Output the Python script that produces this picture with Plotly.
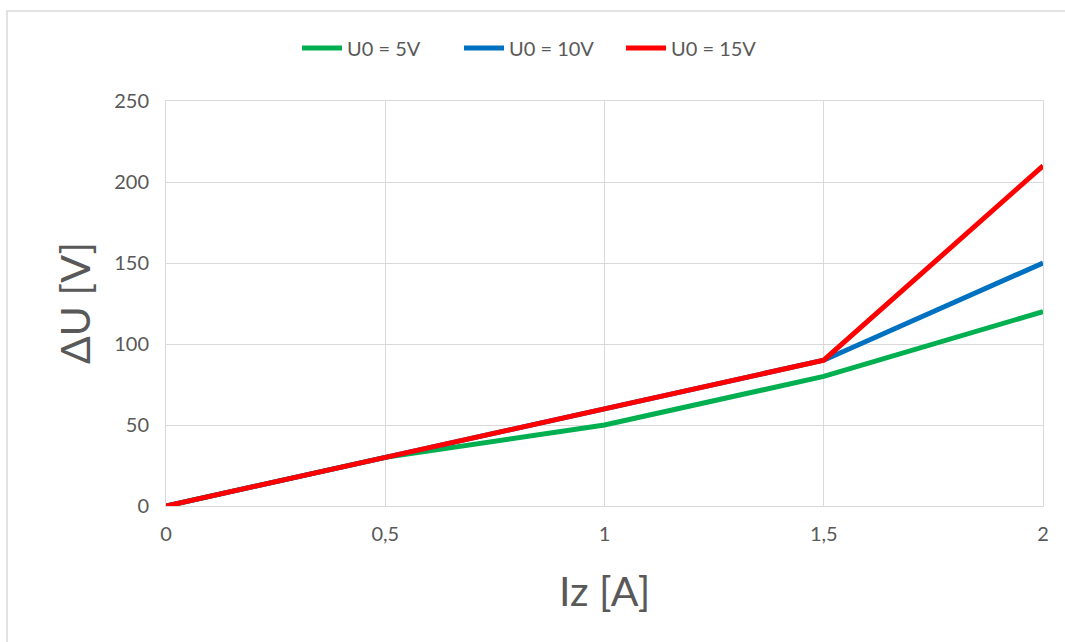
import plotly.graph_objects as go

x_vals = [0, 0.5, 1, 1.5, 2]
u5 = [0, 30, 50, 80, 120]
u10 = [0, 30, 60, 90, 150]
u15 = [0, 30, 60, 90, 210]
names = ["U0 = 5V", "U0 = 10V", "U0 = 15V"]
colors = ["#00B050", "#0070C0", "#FF0000"]
x_ticks = [0, 0.5, 1, 1.5, 2]
x_labels = ["0", "0,5", "1", "1,5", "2"]
y_ticks = [0, 50, 100, 150, 200, 250]

FONT = "Lato, 'Open Sans', sans-serif"
GRID = "#D9D9D9"
TXT = "#595959"

fig = go.Figure()
for name, ys, c in zip(names, [u5, u10, u15], colors):
    fig.add_trace(go.Scatter(x=x_vals, y=ys, mode="lines", name=name,
                             line=dict(color=c, width=5)))

L, R, T, B = 166, 22, 101, 136
W, H = 1065, 642
pw, ph = W - L - R, H - T - B

def px(x):
    return (x - L) / pw

def py(y):
    return (H - B - y) / ph

fig.update_layout(
    width=W, height=H,
    margin=dict(l=L, r=R, t=T, b=B),
    paper_bgcolor="white", plot_bgcolor="white",
    font=dict(family=FONT, color=TXT, size=20),
    showlegend=True,
    legend=dict(orientation="h", x=px(540), xanchor="center",
                y=py(48), yanchor="middle",
                font=dict(size=20, color=TXT), itemwidth=40,
                entrywidth=107, entrywidthmode="pixels",
                bgcolor="rgba(0,0,0,0)"),
    xaxis=dict(range=[0, 2], tickvals=x_ticks, ticktext=x_labels,
               showgrid=True, gridcolor=GRID, gridwidth=1,
               zeroline=False, showline=True, mirror=True,
               linecolor=GRID, linewidth=1,
               ticks="outside", ticklen=10, tickcolor="rgba(0,0,0,0)",
               tickfont=dict(size=20, color=TXT)),
    yaxis=dict(range=[0, 250], tickvals=y_ticks,
               showgrid=True, gridcolor=GRID, gridwidth=1,
               zeroline=False, showline=True, mirror=True,
               linecolor=GRID, linewidth=1,
               ticks="outside", ticklen=12, tickcolor="rgba(0,0,0,0)",
               tickfont=dict(size=20, color=TXT)),
    annotations=[
        dict(text="Iz [A]", xref="paper", yref="paper",
             x=px(604), y=py(590), xanchor="center", yanchor="middle",
             showarrow=False, font=dict(size=41, color=TXT, family=FONT)),
        dict(text="ΔU [V]", xref="paper", yref="paper",
             x=px(74), y=py(303), xanchor="center", yanchor="middle",
             textangle=-90,
             showarrow=False, font=dict(size=41, color=TXT, family=FONT)),
    ],
    shapes=[
        dict(type="rect", xref="paper", yref="paper",
             x0=px(7), x1=px(1075), y0=py(700), y1=py(11),
             line=dict(color=GRID, width=1.5), fillcolor="rgba(0,0,0,0)",
             layer="below"),
    ],
)

fig.write_html("out.html")
